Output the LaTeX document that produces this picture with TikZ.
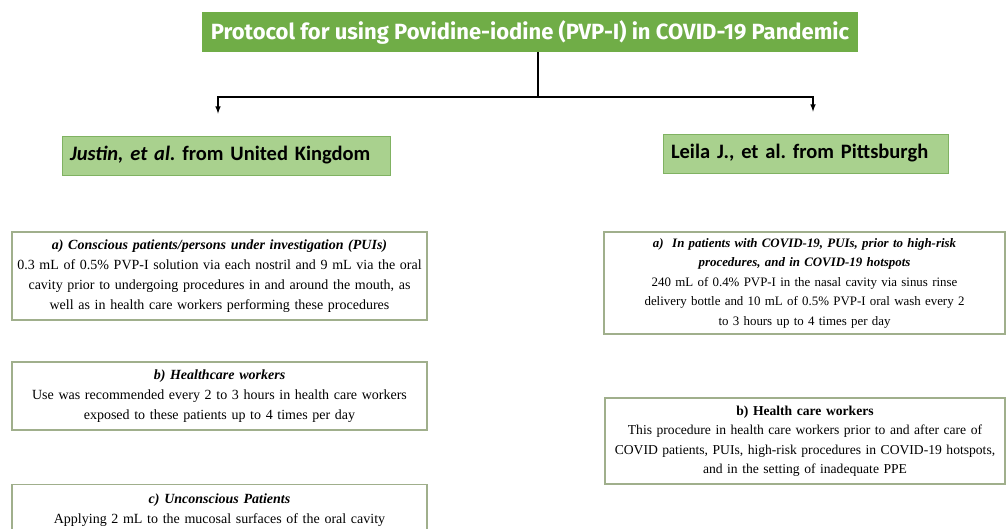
\documentclass[tikz,border=0pt]{standalone}
\usepackage{fontspec}
\setmainfont{Liberation Serif}
\newfontfamily\titlefont{Fira Sans}
\newfontfamily\headfont{Carlito}
\usetikzlibrary{positioning,arrows}
\frenchspacing

\definecolor{titlegreen}{RGB}{112,173,71}
\definecolor{headgreen}{RGB}{169,209,142}
\definecolor{headedge}{RGB}{128,178,98}
\definecolor{boxedge}{RGB}{160,175,140}

\tikzset{
    titlebox/.style={fill=titlegreen, text=white, minimum width=656pt,
        minimum height=40pt, font=\titlefont\bfseries\fontsize{22}{24}\selectfont},
    headbox/.style={fill=headgreen, draw=headedge, line width=0.8pt,
        minimum height=39pt, inner xsep=8pt, align=left,
        font=\headfont\bfseries\fontsize{20.5}{23}\selectfont},
    notebox/.style={draw=boxedge, line width=1.2pt, align=center,
        inner xsep=4pt, font=\fontsize{14}{20}\selectfont},
    link/.style={line width=1.5pt},
}

\begin{document}
\begin{tikzpicture}[x=1pt, y=1pt]
    \useasboundingbox (0, 0) rectangle (1008, 528);
    % Title
    \node[titlebox] (title) at (530, 496)
        {Protocol for using Povidine-iodine (PVP-I) in COVID-19 Pandemic};
    % Labels
    \node[headbox, text width=312pt] (justin) at (226, 372.5)
        {\textit{Justin, et al.} from United Kingdom};
    \node[headbox, text width=269pt] (leila) at (805.5, 374.5)
        {Leila J., et al. from Pittsburgh};
    % Left column
    \node[notebox, text width=407pt, minimum height=88pt] (conscious) at (219.5, 252)
        {\textbf{\textit{a) Conscious patients/persons under investigation (PUIs)}}\\
         0.3 mL of 0.5\% PVP-I solution via each nostril and 9 mL via the oral\\
         cavity prior to undergoing procedures in and around the mouth, as\\
         well as in health care workers performing these procedures};
    \node[notebox, text width=407pt, minimum height=68pt] (workers) at (219.5, 132)
        {\textbf{\textit{b) Healthcare workers}}\\
         Use was recommended every 2 to 3 hours in health care workers\\
         exposed to these patients up to 4 times per day};
    \node[notebox, text width=407pt, inner ysep=9pt, anchor=north] (unconscious) at (219.5, 44)
        {\textbf{\textit{c) Unconscious Patients}}\\
         Applying 2 mL to the mucosal surfaces of the oral cavity};
    % Right column
    \node[notebox, text width=393pt, minimum height=102pt,
          font=\fontsize{12.9}{19.5}\selectfont] (hotspots) at (804.5, 245)
        {\textbf{\textit{a)\ \ In patients with COVID-19, PUIs, prior to high-risk}}\hspace*{22pt}\\
         \textbf{\textit{procedures, and in COVID-19 hotspots}}\hspace*{22pt}\\
         240 mL of 0.4\% PVP-I in the nasal cavity via sinus rinse\hspace*{22pt}\\
         delivery bottle and 10 mL of 0.5\% PVP-I oral wash every 2\hspace*{22pt}\\
         to 3 hours up to 4 times per day\hspace*{22pt}};
    \node[notebox, text width=392pt, minimum height=86pt,
          font=\fontsize{13.6}{19.5}\selectfont] (carers) at (805, 87)
        {\textbf{b) Health care workers}\\
         This procedure in health care workers prior to and after care of\\
         COVID patients, PUIs, high-risk procedures in COVID-19 hotspots,\\
         and in the setting of inadequate PPE};
    % Arrows
    \draw[link] ([xshift=8pt]title.south) -- ++(0, -45) coordinate (split);
    \draw[link, -latex, shorten >=22pt] (split) -| ([xshift=-8pt]justin.north);
    \draw[link, -latex, shorten >=22pt] (split) -| ([xshift=7.5pt]leila.north);
\end{tikzpicture}
\end{document}
